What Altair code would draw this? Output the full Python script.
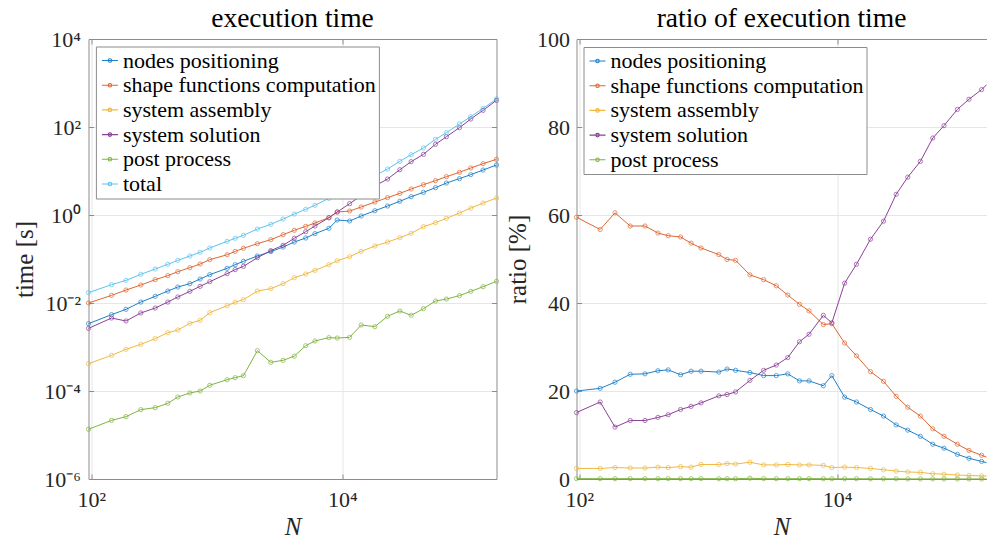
import altair as alt
import pandas as pd

# ---------------- data ----------------
N = [95, 145, 189, 248, 323, 407, 489, 610, 736, 879, 1208, 1400, 1629, 2104,
     2692, 3373, 4140, 5105, 6053, 7816, 9099, 11429, 14125, 18155, 22909,
     28708, 35318, 44259, 55208, 67453, 85704, 105439, 132130, 169044]

names_left = ["nodes positioning", "shape functions computation", "system assembly",
              "system solution", "post process", "total"]
names_right = names_left[:5]

time_nodes = [0.00339, 0.00543, 0.00718, 0.0105, 0.0142, 0.0187, 0.0231, 0.0275, 0.0351,
              0.0441, 0.0614, 0.0743, 0.0885, 0.117, 0.147, 0.187, 0.243, 0.300, 0.377,
              0.498, 0.769, 0.731, 0.948, 1.25, 1.60, 2.05, 2.61, 3.27, 4.18, 5.33, 6.70,
              8.26, 10.5, 13.7]
time_shape = [0.0100, 0.0149, 0.0197, 0.0256, 0.0339, 0.0418, 0.0515, 0.0635, 0.0769,
              0.0966, 0.125, 0.149, 0.175, 0.223, 0.275, 0.357, 0.449, 0.552, 0.658,
              0.869, 1.17, 1.23, 1.52, 1.97, 2.48, 3.10, 3.90, 4.89, 6.03, 7.43, 9.33,
              11.7, 14.7, 18.4]
time_assembly = [0.000418, 0.000647, 0.000885, 0.00115, 0.00155, 0.00212, 0.00243,
                 0.00345, 0.00404, 0.00603, 0.00869, 0.0104, 0.0119, 0.0187, 0.0212,
                 0.0275, 0.0376, 0.0456, 0.0552, 0.0743, 0.0916, 0.113, 0.149, 0.197,
                 0.243, 0.305, 0.383, 0.543, 0.670, 0.839, 1.11, 1.44, 1.87, 2.43]
time_solution = [0.00265, 0.00456, 0.00390, 0.00593, 0.00769, 0.0105, 0.0137, 0.0184,
                 0.0239, 0.0305, 0.0465, 0.0573, 0.0681, 0.107, 0.155, 0.205, 0.295,
                 0.418, 0.562, 0.869, 1.17, 1.81, 2.75, 4.56, 6.58, 10.7, 16.3, 23.9,
                 40.4, 60.3, 96.6, 152, 239, 404]
time_post = [1.35e-5, 2.15e-5, 2.61e-5, 3.77e-5, 4.18e-5, 5.25e-5, 7.31e-5, 9.02e-5,
             1.00e-4, 1.35e-4, 1.81e-4, 2.01e-4, 2.23e-4, 8.26e-4, 4.49e-4, 4.98e-4,
             6.19e-4, 1.07e-3, 1.37e-3, 1.63e-3, 1.60e-3, 1.66e-3, 3.16e-3, 2.90e-3,
             4.98e-3, 6.58e-3, 5.25e-3, 7.43e-3, 0.0111, 0.0123, 0.0147, 0.0184,
             0.0235, 0.0310]
time_total = [0.0172, 0.0261, 0.0327, 0.0449, 0.0593, 0.0757, 0.0933, 0.117, 0.142,
              0.178, 0.252, 0.295, 0.345, 0.481, 0.614, 0.811, 1.05, 1.35, 1.66, 2.39,
              3.16, 3.89, 5.37, 7.83, 11.1, 16.6, 23.5, 33.3, 52.5, 74.3, 117, 172,
              265, 433]

ratio_nodes = [20.0, 20.6, 22.0, 23.8, 23.9, 24.6, 24.8, 23.7, 24.5, 24.5, 24.3, 25.0,
               24.7, 24.2, 23.5, 23.5, 23.9, 22.3, 22.3, 21.2, 23.5, 18.6, 17.5, 15.8,
               14.3, 12.3, 11.1, 9.7, 7.9, 7.0, 5.6, 4.7, 4.0, 3.2]
ratio_shape = [59.5, 56.7, 60.5, 57.5, 57.5, 55.9, 55.3, 55.0, 53.6, 52.5, 51.0, 49.9,
               49.7, 46.4, 45.3, 43.9, 41.8, 39.7, 38.2, 35.1, 35.3, 30.9, 28.0, 24.4,
               22.2, 18.8, 16.3, 14.3, 11.4, 9.7, 7.9, 6.5, 5.4, 4.2]
ratio_assembly = [2.4, 2.4, 2.6, 2.5, 2.5, 2.7, 2.6, 2.8, 2.7, 3.3, 3.3, 3.5, 3.4, 3.8,
                  3.2, 3.2, 3.3, 3.2, 3.2, 3.1, 2.6, 2.7, 2.6, 2.4, 2.1, 1.8, 1.6, 1.5,
                  1.2, 1.1, 0.9, 0.8, 0.7, 0.6]
ratio_solution = [15.1, 17.5, 11.8, 13.3, 13.3, 14.0, 14.6, 15.8, 16.5, 17.3, 18.9,
                  19.2, 19.8, 22.4, 24.7, 25.9, 27.6, 31.2, 32.9, 37.2, 35.5, 44.5,
                  48.8, 54.5, 58.6, 64.7, 68.6, 72.2, 77.5, 80.3, 84.0, 86.3, 88.5, 91.5]
ratio_post = [0.08, 0.08, 0.08, 0.08, 0.07, 0.07, 0.08, 0.08, 0.07, 0.08, 0.07, 0.07,
              0.06, 0.17, 0.07, 0.06, 0.06, 0.08, 0.08, 0.07, 0.05, 0.04, 0.06, 0.04,
              0.04, 0.04, 0.02, 0.02, 0.02, 0.02, 0.01, 0.01, 0.01, 0.01]

colors_left = ["#1f80c8", "#df6630", "#f0b940", "#8b4198", "#80b440", "#5cc4f0"]
colors_right = colors_left[:5]

y_ticks_left = [1e-6, 1e-4, 1e-2, 1, 1e2, 1e4]
y_ticks_right = [0, 20, 40, 60, 80, 100]
x_ticks = [100, 10000]
x_max_visible = 144200  # right panel is cut at the window edge


def long_table(names, cols, key):
    rows = []
    for name, vals in zip(names, cols):
        for n, v in zip(N, vals):
            rows.append({"N": n, key: v, "series": name})
    return pd.DataFrame(rows)


df_left = long_table(names_left, [time_nodes, time_shape, time_assembly, time_solution,
                                  time_post, time_total], "time")
df_right = long_table(names_right, [ratio_nodes, ratio_shape, ratio_assembly,
                                    ratio_solution, ratio_post], "ratio")

# ---------------- styling ----------------
FONT = "Liberation Serif"
FRAME = "#8c8c8c"
GRID = "#e6e6e6"
TXT = "#262626"
SYM = "M-1,0H1M-0.22,0A0.22,0.22,0,1,1,0.22,0A0.22,0.22,0,1,1,-0.22,0"

x_expr = "datum.value < 1000 ? '10²' : '10⁴'"
y_expr = ("datum.value < 1e-5 ? '10⁻⁶' : datum.value < 1e-3 ? '10⁻⁴' : "
          "datum.value < 0.1 ? '10⁻²' : datum.value < 10 ? '10⁰' : "
          "datum.value < 1000 ? '10²' : '10⁴'")


def label_axis(orient, values, title, expr=None, title_pad=6, label_pad=8, italic=False):
    kw = dict(orient=orient, values=values, title=title, ticks=False, grid=True,
              gridColor=GRID, gridWidth=1, domain=True, domainColor=FRAME,
              domainWidth=1, labelPadding=label_pad, titlePadding=title_pad,
              labelFont=FONT, labelFontSize=22, labelColor=TXT, titleFont=FONT,
              titleFontSize=25, titleFontWeight="normal", titleColor=TXT)
    if expr:
        kw["labelExpr"] = expr
    if italic:
        kw["titleFontStyle"] = "italic"
    return alt.Axis(**kw)


def tick_axis(orient, values):
    return alt.Axis(orient=orient, values=values, title=None, labels=False, grid=False,
                    domain=False, ticks=True, tickSize=5, tickColor=FRAME, tickWidth=1,
                    offset=-5)


def border_axis(orient):
    return alt.Axis(orient=orient, title=None, labels=False, grid=False, ticks=False,
                    domain=True, domainColor=FRAME, domainWidth=1)


def legend(x, y):
    return alt.Legend(title=None, orient="none", legendX=x, legendY=y, fillColor="white",
                      strokeColor=FRAME, padding=3, symbolType=SYM, symbolSize=256,
                      symbolStrokeWidth=1.1, labelFont=FONT, labelFontSize=22,
                      labelColor="#000", labelOffset=2, rowPadding=2.7, labelLimit=500)


def title(text):
    return alt.TitleParams(text, font=FONT, fontSize=27.5, fontWeight="normal",
                           color="#000", offset=-4.5, frame="group", anchor="middle")


# ---------------- left panel ----------------
xs_left = alt.Scale(type="log", domain=[95, 169044], nice=False)
ys_left = alt.Scale(type="log", domain=[1e-6, 1e4], nice=False)
cs_left = alt.Scale(domain=names_left, range=colors_left)

bl = alt.Chart(df_left)
l_lines = bl.mark_line(strokeWidth=1).encode(
    x=alt.X("N:Q", scale=xs_left, axis=label_axis("bottom", x_ticks, "N", x_expr, 4, 10, True)),
    y=alt.Y("time:Q", scale=ys_left, axis=label_axis("left", y_ticks_left, "time [s]", y_expr, 6, 8)),
    color=alt.Color("series:N", scale=cs_left, sort=names_left, legend=legend(7.4, 7.5)),
)
l_points = bl.mark_point(filled=False, size=18, strokeWidth=1).encode(
    x=alt.X("N:Q", scale=xs_left, axis=tick_axis("bottom", x_ticks)),
    y=alt.Y("time:Q", scale=ys_left, axis=tick_axis("left", y_ticks_left)),
    color=alt.Color("series:N", scale=cs_left, sort=names_left, legend=None),
)
l_frame = bl.mark_line(opacity=0).encode(
    x=alt.X("N:Q", scale=xs_left, axis=border_axis("top")),
    y=alt.Y("time:Q", scale=ys_left, axis=border_axis("right")),
    detail="series:N",
)
l_ticks2 = bl.mark_line(opacity=0).encode(
    x=alt.X("N:Q", scale=xs_left, axis=tick_axis("top", x_ticks)),
    y=alt.Y("time:Q", scale=ys_left, axis=tick_axis("right", y_ticks_left)),
    detail="series:N",
)
left = alt.layer(l_lines, l_points, l_frame, l_ticks2).resolve_axis(
    x="independent", y="independent"
).properties(width=408, height=440, title=title("execution time"))

# ---------------- right panel ----------------
xs_right = alt.Scale(type="log", domain=[95, x_max_visible], nice=False)
ys_right = alt.Scale(domain=[0, 100], nice=False)
cs_right = alt.Scale(domain=names_right, range=colors_right)

br = alt.Chart(df_right)
brf = br.transform_filter(alt.datum.N <= x_max_visible)
r_lines = br.mark_line(strokeWidth=1, clip=True).encode(
    x=alt.X("N:Q", scale=xs_right, axis=label_axis("bottom", x_ticks, "N", x_expr, 4, 10, True)),
    y=alt.Y("ratio:Q", scale=ys_right, axis=label_axis("left", y_ticks_right, "ratio [%]", None, 6, 7)),
    color=alt.Color("series:N", scale=cs_right, sort=names_right, legend=legend(7, 8)),
)
r_points = brf.mark_point(filled=False, size=18, strokeWidth=1).encode(
    x=alt.X("N:Q", scale=xs_right, axis=tick_axis("bottom", x_ticks)),
    y=alt.Y("ratio:Q", scale=ys_right, axis=tick_axis("left", y_ticks_right)),
    color=alt.Color("series:N", scale=cs_right, sort=names_right, legend=None),
)
r_frame = brf.mark_line(opacity=0).encode(
    x=alt.X("N:Q", scale=xs_right, axis=border_axis("top")),
    y=alt.Y("ratio:Q", scale=ys_right, axis=None),
    detail="series:N",
)
r_ticks2 = brf.mark_line(opacity=0).encode(
    x=alt.X("N:Q", scale=xs_right, axis=tick_axis("top", x_ticks)),
    y=alt.Y("ratio:Q", scale=ys_right, axis=None),
    detail="series:N",
)
right = alt.layer(r_lines, r_points, r_frame, r_ticks2).resolve_axis(
    x="independent", y="independent"
).properties(width=410, height=440, title=title("ratio of execution time"))

chart = alt.hconcat(left, right, spacing=4).resolve_scale(
    x="independent", y="independent", color="independent"
).properties(
    padding={"left": 12.5, "top": 5, "right": 0, "bottom": 0}
).configure_view(stroke=None)

chart.save("out.html", embed_options={"renderer": "svg", "actions": False})
